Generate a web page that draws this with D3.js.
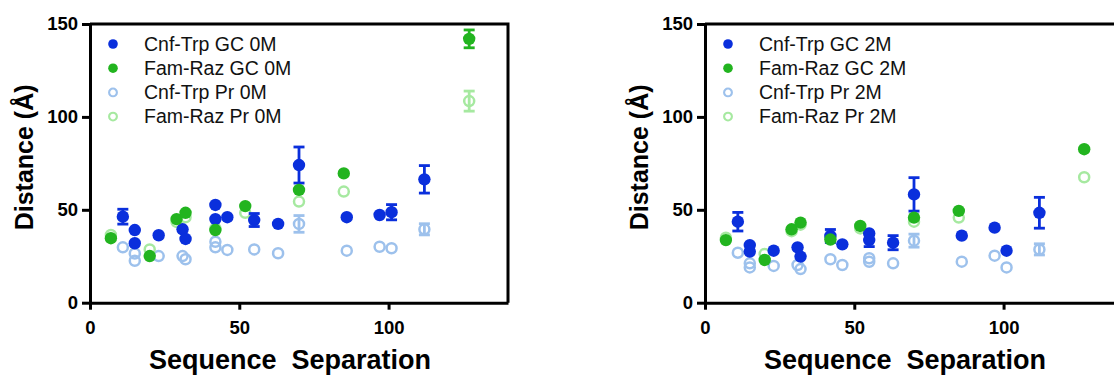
<!DOCTYPE html>
<html>
<head>
<meta charset="utf-8">
<script src="https://cdn.jsdelivr.net/npm/d3@7"></script>
<style>
  html, body { margin: 0; padding: 0; background: #fff; }
  svg { display: block; font-family: "Liberation Sans", Arial, Helvetica, sans-serif; }
</style>
</head>
<body>
<svg id="chart" width="1114" height="375"></svg>
<script>
// Sequence separation (x), mean distance in Å (y), and error (e, 0 when no bar is drawn)

// 0 M denaturant
const cnfTrpGC0 = [
  {x: 11, y: 46.3, e: 4}, {x: 15, y: 39.1, e: 0}, {x: 15, y: 32.0, e: 0},
  {x: 23, y: 36.3, e: 0}, {x: 31, y: 39.5, e: 0}, {x: 32, y: 34.3, e: 0},
  {x: 42, y: 52.6, e: 0}, {x: 42, y: 45.0, e: 0}, {x: 46, y: 46.0, e: 0},
  {x: 55, y: 44.5, e: 3.5}, {x: 63, y: 42.4, e: 0}, {x: 70, y: 74.1, e: 9.7},
  {x: 86, y: 46.0, e: 0}, {x: 97, y: 47.2, e: 0}, {x: 101, y: 48.7, e: 4.1},
  {x: 112, y: 66.4, e: 7.4}
];
const famRazGC0 = [
  {x: 7, y: 34.7, e: 0}, {x: 20, y: 25.1, e: 0}, {x: 29, y: 45.0, e: 0},
  {x: 32, y: 48.4, e: 0}, {x: 42, y: 39.1, e: 0}, {x: 52, y: 52.0, e: 0},
  {x: 70, y: 60.7, e: 0}, {x: 85, y: 69.6, e: 0}, {x: 127, y: 142.0, e: 4.8}
];
const cnfTrpPr0 = [
  {x: 11, y: 29.8, e: 0}, {x: 15, y: 26.5, e: 0}, {x: 15, y: 22.6, e: 0},
  {x: 23, y: 25.1, e: 0}, {x: 31, y: 25.1, e: 0}, {x: 32, y: 23.4, e: 0},
  {x: 42, y: 32.8, e: 0}, {x: 42, y: 29.8, e: 0}, {x: 46, y: 28.4, e: 0},
  {x: 55, y: 28.7, e: 0}, {x: 63, y: 26.6, e: 0}, {x: 70, y: 42.4, e: 4.5},
  {x: 86, y: 28.0, e: 0}, {x: 97, y: 30.1, e: 0}, {x: 101, y: 29.3, e: 0},
  {x: 112, y: 39.5, e: 3}
];
const famRazPr0 = [
  {x: 7, y: 36.5, e: 0}, {x: 20, y: 28.7, e: 0}, {x: 29, y: 43.5, e: 0},
  {x: 32, y: 46.0, e: 0}, {x: 42, y: 40.0, e: 0}, {x: 52, y: 48.4, e: 0},
  {x: 70, y: 54.4, e: 0}, {x: 85, y: 59.8, e: 0}, {x: 127, y: 108.5, e: 5.4}
];

// 2 M denaturant
const cnfTrpGC2 = [
  {x: 11, y: 43.6, e: 5}, {x: 15, y: 31.0, e: 0}, {x: 15, y: 27.5, e: 0},
  {x: 23, y: 28.0, e: 0}, {x: 31, y: 29.8, e: 0}, {x: 32, y: 24.8, e: 0},
  {x: 42, y: 35.9, e: 3.5}, {x: 46, y: 31.4, e: 0}, {x: 55, y: 37.3, e: 0},
  {x: 55, y: 33.7, e: 3.5}, {x: 63, y: 32.3, e: 3.8}, {x: 70, y: 58.3, e: 9},
  {x: 86, y: 36.1, e: 0}, {x: 97, y: 40.4, e: 0}, {x: 101, y: 28.0, e: 0},
  {x: 112, y: 48.4, e: 8.3}
];
const famRazGC2 = [
  {x: 7, y: 33.7, e: 0}, {x: 20, y: 23.0, e: 0}, {x: 29, y: 39.5, e: 0},
  {x: 32, y: 43.1, e: 0}, {x: 42, y: 34.0, e: 0}, {x: 52, y: 41.3, e: 0},
  {x: 70, y: 45.8, e: 0}, {x: 85, y: 49.4, e: 0}, {x: 127, y: 82.6, e: 0}
];
const cnfTrpPr2 = [
  {x: 11, y: 26.9, e: 0}, {x: 15, y: 21.2, e: 0}, {x: 15, y: 19.0, e: 0},
  {x: 23, y: 19.8, e: 0}, {x: 31, y: 20.3, e: 0}, {x: 32, y: 18.1, e: 0},
  {x: 42, y: 23.4, e: 0}, {x: 46, y: 20.3, e: 0}, {x: 55, y: 23.9, e: 0},
  {x: 55, y: 22.0, e: 0}, {x: 63, y: 21.2, e: 0}, {x: 70, y: 33.4, e: 3.5},
  {x: 86, y: 22.1, e: 0}, {x: 97, y: 25.3, e: 0}, {x: 101, y: 19.0, e: 0},
  {x: 112, y: 28.7, e: 3}
];
const famRazPr2 = [
  {x: 7, y: 35.0, e: 0}, {x: 20, y: 26.2, e: 0}, {x: 29, y: 38.5, e: 0},
  {x: 32, y: 42.0, e: 0}, {x: 42, y: 35.0, e: 0}, {x: 52, y: 40.0, e: 0},
  {x: 70, y: 43.6, e: 0}, {x: 85, y: 45.8, e: 0}, {x: 127, y: 67.5, e: 0}
];

const xTicks = [0, 50, 100];
const yTicks = [0, 50, 100, 150];
const xTitle = "Sequence  Separation";
const yTitle = "Distance (Å)";

const COLORS = {
  cnfGC: "#0a2fdc",
  famGC: "#22b41f",
  cnfPr: "#9dc1ec",
  famPr: "#a6e9a0"
};

const panels = [
  {
    left: 90,
    series: [
      {name: "Cnf-Trp GC 0M", data: cnfTrpGC0, color: COLORS.cnfGC, filled: true},
      {name: "Fam-Raz GC 0M", data: famRazGC0, color: COLORS.famGC, filled: true},
      {name: "Cnf-Trp Pr 0M", data: cnfTrpPr0, color: COLORS.cnfPr, filled: false},
      {name: "Fam-Raz Pr 0M", data: famRazPr0, color: COLORS.famPr, filled: false}
    ]
  },
  {
    left: 705,
    series: [
      {name: "Cnf-Trp GC 2M", data: cnfTrpGC2, color: COLORS.cnfGC, filled: true},
      {name: "Fam-Raz GC 2M", data: famRazGC2, color: COLORS.famGC, filled: true},
      {name: "Cnf-Trp Pr 2M", data: cnfTrpPr2, color: COLORS.cnfPr, filled: false},
      {name: "Fam-Raz Pr 2M", data: famRazPr2, color: COLORS.famPr, filled: false}
    ]
  }
];

const svg = d3.select("#chart");
const plotTop = 24;
const plotW = 418;
const plotH = 278.7;
const R = 6.2;
const LINE_W = 3;

function drawPanel(p) {
  const g = svg.append("g").attr("transform", `translate(${p.left},${plotTop})`);
  const x = d3.scaleLinear().domain([0, 140]).range([0, plotW]);
  const y = d3.scaleLinear().domain([0, 150]).range([plotH, 0]);

  // frame (top and right edges)
  g.append("path")
    .attr("d", `M0,0H${plotW}V${plotH}`)
    .attr("fill", "none")
    .attr("stroke", "#000")
    .attr("stroke-width", LINE_W);

  const xAxis = g.append("g")
    .attr("transform", `translate(0,${plotH})`)
    .call(d3.axisBottom(x).tickValues(xTicks).tickSize(7).tickPadding(11).tickSizeOuter(0));
  const yAxis = g.append("g")
    .call(d3.axisLeft(y).tickValues(yTicks).tickSize(8).tickPadding(4).tickSizeOuter(0));

  [xAxis, yAxis].forEach(a => {
    a.select(".domain").attr("stroke-width", LINE_W);
    a.selectAll(".tick line").attr("stroke-width", LINE_W);
    a.selectAll(".tick text")
      .attr("font-size", 18.5)
      .attr("font-weight", "bold")
      .attr("fill", "#000")
      .attr("font-family", "Liberation Sans, Arial, sans-serif");
  });

  // axis titles
  g.append("text")
    .attr("x", x(70) - 9)
    .attr("y", plotH + 66)
    .attr("text-anchor", "middle")
    .attr("font-size", 27)
    .attr("font-weight", "bold")
    .style("white-space", "pre")
    .text(xTitle);

  g.append("text")
    .attr("transform", `translate(${-57},${plotH / 2 - 6}) rotate(-90)`)
    .attr("text-anchor", "middle")
    .attr("font-size", 25)
    .attr("font-weight", "bold")
    .text(yTitle);

  // light (Pr) series underneath, GC series on top
  const order = [2, 3, 0, 1];
  order.forEach(i => {
    const s = p.series[i];
    const sg = g.append("g");
    const withErr = s.data.filter(d => d.e > 0);
    const eb = sg.selectAll("g.err").data(withErr).join("g").attr("class", "err")
      .attr("stroke", s.color).attr("stroke-width", 2.8);
    eb.append("line")
      .attr("x1", d => x(d.x)).attr("x2", d => x(d.x))
      .attr("y1", d => y(d.y + d.e)).attr("y2", d => y(d.y - d.e));
    eb.append("line")
      .attr("x1", d => x(d.x) - 5.5).attr("x2", d => x(d.x) + 5.5)
      .attr("y1", d => y(d.y + d.e)).attr("y2", d => y(d.y + d.e));
    eb.append("line")
      .attr("x1", d => x(d.x) - 5.5).attr("x2", d => x(d.x) + 5.5)
      .attr("y1", d => y(d.y - d.e)).attr("y2", d => y(d.y - d.e));

    sg.selectAll("circle").data(s.data).join("circle")
      .attr("cx", d => x(d.x))
      .attr("cy", d => y(d.y))
      .attr("r", s.filled ? R : R - 1.2)
      .attr("fill", s.filled ? s.color : "#fff")
      .attr("fill-opacity", s.filled ? 1 : 0)
      .attr("stroke", s.color)
      .attr("stroke-width", s.filled ? 0 : 2.5);
  });

  // legend
  const lg = g.append("g").attr("transform", "translate(23,20)");
  p.series.forEach((s, i) => {
    const row = lg.append("g").attr("transform", `translate(0,${i * 24.2})`);
    row.append("circle")
      .attr("r", s.filled ? 4.8 : 3.9)
      .attr("fill", s.filled ? s.color : "none")
      .attr("stroke", s.color)
      .attr("stroke-width", s.filled ? 0 : 2.1);
    row.append("text")
      .attr("x", 31)
      .attr("y", 6.5)
      .attr("font-size", 19.5)
      .attr("fill", "#111")
      .text(s.name);
  });
}

panels.forEach(drawPanel);
</script>
</body>
</html>
